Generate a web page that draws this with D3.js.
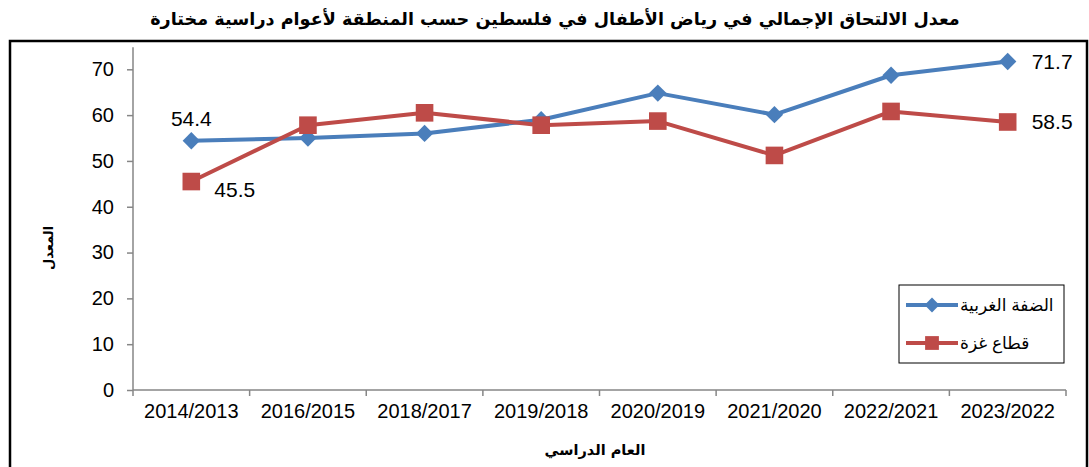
<!DOCTYPE html>
<html>
<head>
<meta charset="utf-8">
<script src="https://cdn.jsdelivr.net/npm/d3@7"></script>
<style>
  body { margin: 0; background: #fff; }
  text { font-family: "Liberation Sans", Arial, "DejaVu Sans", sans-serif; }
  .ar { font-family: "DejaVu Sans", sans-serif; font-weight: bold; }
</style>
</head>
<body>
<div id="chart"></div>
<script>
// Academic years (x categories)
var years = ["2014/2013", "2016/2015", "2018/2017", "2019/2018",
             "2020/2019", "2021/2020", "2022/2021", "2023/2022"];

// West Bank
var westBank = [54.4, 55.0, 56.0, 59.0, 64.8, 60.1, 68.7, 71.7];
// Gaza Strip
var gaza = [45.5, 57.8, 60.5, 57.8, 58.7, 51.2, 60.8, 58.5];

var yTicks = [0, 10, 20, 30, 40, 50, 60, 70];

var seriesNames = ["الضفة الغربية", "قطاع غزة"];
var titleText = "معدل الالتحاق الإجمالي في رياض الأطفال في فلسطين حسب المنطقة لأعوام دراسية مختارة";

var width = 1089, height = 467;
// plot edges
var plotLeft = 133, plotRight = 1066, plotTop = 69.3, plotBottom = 390;

var blue = "#4a7ebb", red = "#be4b48", axisGrey = "#868686";

var svg = d3.select("#chart").append("svg")
  .attr("width", width)
  .attr("height", height);

// title
svg.append("text")
  .attr("class", "ar")
  .attr("x", 555)
  .attr("y", 25)
  .attr("text-anchor", "middle")
  .attr("font-size", 17.6)
  .text(titleText);

// outer frame
svg.append("rect")
  .attr("x", 10).attr("y", 41)
  .attr("width", 1077).attr("height", 450)
  .attr("fill", "none")
  .attr("stroke", "#000")
  .attr("stroke-width", 2.5);

var x = d3.scaleBand().domain(years).range([plotLeft, plotRight]);
var y = d3.scaleLinear().domain([0, 70]).range([plotBottom, plotTop]);

// y axis
var yAxis = svg.append("g")
  .attr("transform", "translate(" + plotLeft + ",0)")
  .call(d3.axisLeft(y).tickValues(yTicks).tickSize(6).tickPadding(13));
yAxis.select(".domain").attr("stroke", axisGrey).attr("stroke-width", 1.5)
  .attr("d", "M0," + (plotTop - 22) + "V" + plotBottom);
yAxis.selectAll(".tick line").attr("stroke", axisGrey).attr("stroke-width", 1.5);
yAxis.selectAll(".tick text").attr("font-size", 20).attr("fill", "#000")
  .attr("font-family", "'Liberation Sans', Arial, sans-serif");

// x axis
var xAxis = svg.append("g")
  .attr("transform", "translate(0," + plotBottom + ")")
  .call(d3.axisBottom(x).tickSize(0).tickPadding(14));
xAxis.select(".domain").attr("stroke", axisGrey).attr("stroke-width", 1.5)
  .attr("d", "M" + plotLeft + ",0H" + plotRight);
xAxis.selectAll(".tick text").attr("font-size", 20).attr("fill", "#000")
  .attr("font-family", "'Liberation Sans', Arial, sans-serif");

// boundary ticks between categories
var bounds = years.map(function(d) { return x(d); }).concat([plotRight]);
svg.append("g").selectAll("line")
  .data(bounds)
  .enter().append("line")
  .attr("x1", function(d) { return d; })
  .attr("x2", function(d) { return d; })
  .attr("y1", plotBottom)
  .attr("y2", plotBottom + 6)
  .attr("stroke", axisGrey)
  .attr("stroke-width", 1.5);

// axis titles
svg.append("text")
  .attr("class", "ar")
  .attr("transform", "translate(53,248)rotate(-90)")
  .attr("text-anchor", "middle")
  .attr("font-size", 13)
  .text("المعدل");

svg.append("text")
  .attr("class", "ar")
  .attr("x", 595)
  .attr("y", 455)
  .attr("text-anchor", "middle")
  .attr("font-size", 14.5)
  .text("العام الدراسي");

var cx = function(d, i) { return x(years[i]) + x.bandwidth() / 2; };

var line = d3.line()
  .x(function(d, i) { return x(years[i]) + x.bandwidth() / 2; })
  .y(function(d) { return y(d); });

function drawSeries(vals, color, shape) {
  svg.append("path")
    .datum(vals)
    .attr("fill", "none")
    .attr("stroke", color)
    .attr("stroke-width", 4)
    .attr("stroke-linejoin", "round")
    .attr("d", line);

  var sym = d3.symbol().type(d3.symbolSquare)
    .size(shape === "diamond" ? 150 : 310);

  svg.append("g").selectAll("path")
    .data(vals)
    .enter().append("path")
    .attr("d", sym)
    .attr("transform", function(d, i) {
      return "translate(" + cx(d, i) + "," + y(d) + ")" + (shape === "diamond" ? "rotate(45)" : "");
    })
    .attr("fill", color);
}

drawSeries(westBank, blue, "diamond");
drawSeries(gaza, red, "square");

// data labels (first and last points)
var labelStyle = function(sel) {
  sel.attr("font-size", 21).attr("fill", "#000");
};
svg.append("text").call(labelStyle)
  .attr("x", cx(0, 0)).attr("y", y(westBank[0]) - 15)
  .attr("text-anchor", "middle")
  .text(westBank[0].toFixed(1));
svg.append("text").call(labelStyle)
  .attr("x", cx(0, 0) + 23).attr("y", y(gaza[0]) + 15)
  .text(gaza[0].toFixed(1));
svg.append("text").call(labelStyle)
  .attr("x", cx(0, 7) + 24).attr("y", y(westBank[7]) + 7)
  .text(westBank[7].toFixed(1));
svg.append("text").call(labelStyle)
  .attr("x", cx(0, 7) + 24).attr("y", y(gaza[7]) + 7)
  .text(gaza[7].toFixed(1));

// legend
var lg = svg.append("g");
lg.append("rect")
  .attr("x", 899).attr("y", 285)
  .attr("width", 165).attr("height", 78)
  .attr("fill", "#fff")
  .attr("stroke", "#000")
  .attr("stroke-width", 1);

var legendRows = [
  { name: seriesNames[0], color: blue, shape: "diamond", y: 305 },
  { name: seriesNames[1], color: red, shape: "square", y: 343 }
];
legendRows.forEach(function(r) {
  lg.append("line")
    .attr("x1", 906).attr("x2", 958)
    .attr("y1", r.y).attr("y2", r.y)
    .attr("stroke", r.color).attr("stroke-width", 4);
  lg.append("path")
    .attr("d", d3.symbol().type(d3.symbolSquare).size(r.shape === "diamond" ? 110 : 190))
    .attr("transform", "translate(932," + r.y + ")" + (r.shape === "diamond" ? "rotate(45)" : ""))
    .attr("fill", r.color);
  lg.append("text")
    .attr("x", 960).attr("y", r.y + 6)
    .attr("text-anchor", "start")
    .attr("font-size", 17)
    .attr("font-family", "'DejaVu Sans', sans-serif")
    .text(r.name);
});
</script>
</body>
</html>
